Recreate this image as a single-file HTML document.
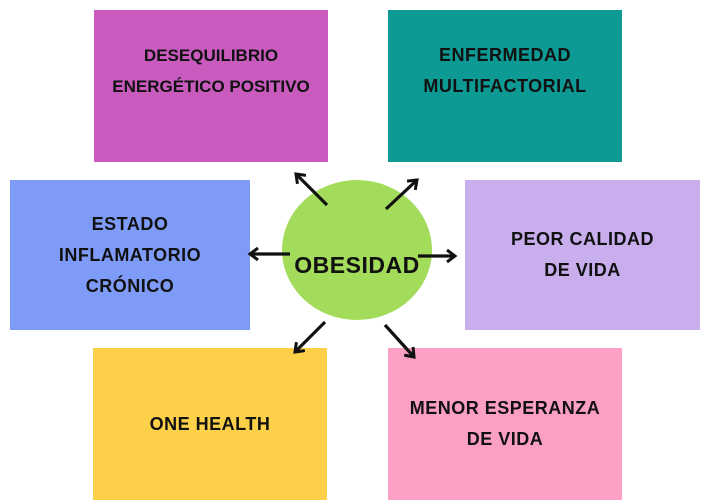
<!DOCTYPE html>
<html><head><style>
body{margin:0;width:709px;height:504px;background:#fff;overflow:hidden;position:relative;font-family:"Liberation Sans",sans-serif}
.b{position:absolute;display:flex;flex-direction:column;justify-content:center;align-items:center;text-align:center;font-weight:bold;font-size:18px;letter-spacing:0.5px;line-height:31px;color:#111;white-space:nowrap}
</style></head><body>
<div class="b" style="left:94px;top:10px;width:234px;height:152px;background:#c95bbf;justify-content:flex-start"><div style="margin-top:30px;font-size:17px;letter-spacing:0">DESEQUILIBRIO<br>ENERGÉTICO POSITIVO</div></div>
<div class="b" style="left:388px;top:10px;width:234px;height:152px;background:#0e9a94;justify-content:flex-start"><div style="margin-top:30px">ENFERMEDAD<br>MULTIFACTORIAL</div></div>
<div class="b" style="left:10px;top:180px;width:240px;height:150px;background:#7f9bf8">ESTADO<br>INFLAMATORIO<br>CRÓNICO</div>
<div class="b" style="left:465px;top:180px;width:235px;height:150px;background:#c9aeee">PEOR CALIDAD<br>DE VIDA</div>
<div class="b" style="left:93px;top:348px;width:234px;height:152px;background:#fdd04a">ONE HEALTH</div>
<div class="b" style="left:388px;top:348px;width:234px;height:152px;background:#fc9fc4">MENOR ESPERANZA<br>DE VIDA</div>
<div style="position:absolute;left:282px;top:180px;width:150px;height:140px;border-radius:50%;background:#a2dc5a"></div>
<div class="b" style="left:282px;top:240px;width:150px;height:50px;font-size:23px;letter-spacing:0.5px">OBESIDAD</div>
<svg width="709" height="504" style="position:absolute;left:0;top:0">
<defs><marker id="a" markerWidth="14" markerHeight="14" refX="10" refY="7" orient="auto" markerUnits="userSpaceOnUse"><path d="M2,1 L10,7 L2,13" fill="none" stroke="#111" stroke-width="3"/></marker></defs>
<g stroke="#111" stroke-width="3.2" marker-end="url(#a)">
<line x1="327" y1="205" x2="296" y2="174"/>
<line x1="386" y1="209" x2="417" y2="180"/>
<line x1="290" y1="254" x2="250" y2="254"/>
<line x1="418" y1="256" x2="455" y2="256"/>
<line x1="325" y1="322" x2="295" y2="352"/>
<line x1="385" y1="325" x2="414" y2="357"/>
</g></svg>
</body></html>
